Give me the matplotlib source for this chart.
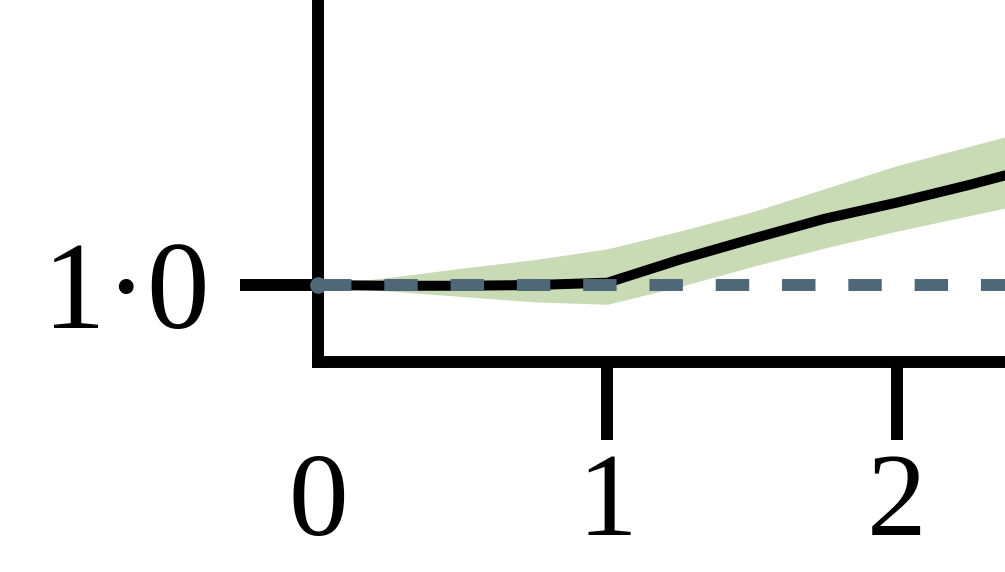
import matplotlib.pyplot as plt

# curve with its confidence band, and the reference level at 1.0
x_vals = [0.0, 0.25, 0.5, 0.75, 1.0, 1.25, 1.5, 1.75, 2.0, 2.25, 2.5]
estimate = [1.0, 0.999, 0.999, 1.0, 1.003, 1.033, 1.06, 1.086, 1.107, 1.13, 1.155]
band_upper = [1.0, 1.01, 1.022, 1.033, 1.047, 1.07, 1.095, 1.125, 1.155, 1.18, 1.205]
band_lower = [1.0, 0.992, 0.985, 0.978, 0.975, 0.998, 1.024, 1.048, 1.07, 1.09, 1.11]
reference = 1.0

x_ticks = [0, 1, 2]
x_labels = ['0', '1', '2']
y_ticks = [1.0]
y_labels = ['1\u00b70']

plt.rcParams['font.family'] = ['Liberation Serif', 'DejaVu Serif']

fig = plt.figure(figsize=(10.05, 5.72), dpi=100)
ax = fig.add_axes([0.3164, 0.3671, 0.6836, 0.6329])

ax.fill_between(x_vals, band_lower, band_upper, color='#c9dbb4', lw=0, zorder=1)
ax.plot(x_vals, estimate, color='black', lw=7.2, solid_capstyle='butt', zorder=2)
ax.axhline(reference, color='#4e6878', lw=8.6, dashes=(2.8, 2.75), zorder=3)
ax.plot([0], [reference], 'o', color='#4e6878', ms=11, zorder=4, clip_on=False)

ax.set_xlim(0, 2.373)
ax.set_ylim(0.9, 1.370)

for side in ['top', 'right']:
    ax.spines[side].set_visible(False)
for side in ['left', 'bottom']:
    ax.spines[side].set_linewidth(8.6)
    ax.spines[side].set_capstyle('projecting')

ax.set_xticks(x_ticks)
ax.set_xticklabels(x_labels)
ax.set_yticks(y_ticks)
ax.set_yticklabels(y_labels)
ax.tick_params(axis='both', length=56, width=8.6, labelsize=90)
ax.tick_params(axis='x', pad=9, labelsize=86)
ax.tick_params(axis='y', pad=22)
# no tick mark at the origin, only its label
ax.xaxis.get_major_ticks()[0].tick1line.set_visible(False)

fig.savefig('out.png', dpi=100)
